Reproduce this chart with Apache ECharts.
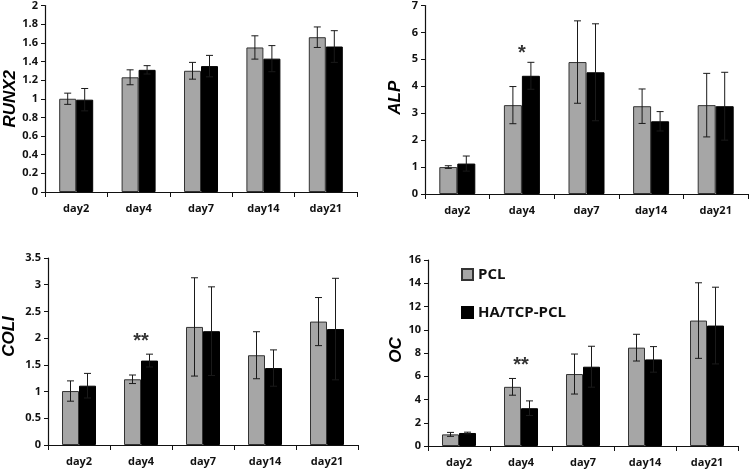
<!DOCTYPE html>
<html><head><meta charset="utf-8">
<script src="https://cdn.jsdelivr.net/npm/echarts@6/dist/echarts.min.js"></script>
<style>html,body{margin:0;padding:0;background:#fff}#c{width:750px;height:469px}</style>
</head><body><div id="c"></div>
<script>
var days = ['day2', 'day4', 'day7', 'day14', 'day21'];
var seriesNames = ['PCL', 'HA/TCP-PCL'];
var panelTitles = ['RUNX2', 'ALP', 'COLI', 'OC'];

var runx2Pcl = [1.00, 1.23, 1.30, 1.55, 1.66];
var runx2PclErr = [0.06, 0.08, 0.09, 0.125, 0.11];
var runx2Ha = [0.99, 1.31, 1.35, 1.43, 1.56];
var runx2HaErr = [0.12, 0.045, 0.115, 0.14, 0.17];

var alpPcl = [1.00, 3.30, 4.90, 3.26, 3.30];
var alpPclErr = [0.05, 0.69, 1.53, 0.64, 1.18];
var alpHa = [1.13, 4.39, 4.52, 2.70, 3.26];
var alpHaErr = [0.28, 0.50, 1.80, 0.36, 1.26];

var coliPcl = [1.01, 1.23, 2.21, 1.68, 2.31];
var coliPclErr = [0.19, 0.08, 0.92, 0.44, 0.45];
var coliHa = [1.11, 1.58, 2.13, 1.44, 2.17];
var coliHaErr = [0.23, 0.12, 0.83, 0.34, 0.95];

var ocPcl = [1.00, 5.09, 6.19, 8.46, 10.79];
var ocPclErr = [0.17, 0.72, 1.72, 1.15, 3.25];
var ocHa = [1.12, 3.25, 6.82, 7.45, 10.36];
var ocHaErr = [0.07, 0.63, 1.76, 1.10, 3.30];

var yMax = [2, 7, 3.5, 16];
var yInterval = [0.2, 1, 0.5, 2];

// significance marks
var sigPanel = [1, 2, 3];
var sigDay = ['day4', 'day4', 'day4'];
var sigY = [5.2, 1.93, 6.95];
var sigText = ['*', '**', '**'];

var panelData = [
  [runx2Pcl, runx2PclErr, runx2Ha, runx2HaErr],
  [alpPcl, alpPclErr, alpHa, alpHaErr],
  [coliPcl, coliPclErr, coliHa, coliHaErr],
  [ocPcl, ocPclErr, ocHa, ocHaErr]
];

var grids = [
  {left: 45, top: 4, right: 393, bottom: 277},
  {left: 425, top: 3, right: 2, bottom: 275},
  {left: 48, top: 258, right: 392, bottom: 24},
  {left: 428, top: 260, right: 12, bottom: 23}
];
var barW = [17, 18, 17, 17];
var nameGaps = [26, 21, 30, 23];
var namePads = [[0, 0, 0, 0], [0, 0, 0, 4], [0, 0, 0, 30], [0, 0, 0, 6]];

var FONT = '"Open Sans", Lato, Arial, sans-serif';
var GRAY = '#a6a6a6';

var xAxes = [], yAxes = [], series = [];
for (var p = 0; p < 4; p++) {
  xAxes.push({
    type: 'category', gridIndex: p, data: days,
    axisLine: {lineStyle: {color: '#111', width: 1.2}},
    axisTick: {show: true, inside: false, length: 5, alignWithLabel: false, lineStyle: {color: '#111'}},
    axisLabel: {color: '#111', fontWeight: 'bold', fontSize: 11, fontFamily: FONT, margin: 11}
  });
  yAxes.push({
    type: 'value', gridIndex: p, min: 0, max: yMax[p], interval: yInterval[p],
    name: panelTitles[p], nameLocation: 'middle', nameGap: nameGaps[p], nameRotate: 90,
    nameTextStyle: {fontStyle: 'italic', fontWeight: 'bold', fontSize: 17, color: '#000', fontFamily: '"Liberation Sans", Arial, sans-serif', padding: namePads[p]},
    splitLine: {show: false},
    axisLine: {show: true, lineStyle: {color: '#111', width: 1.2}},
    axisTick: {show: true, inside: false, length: 4, lineStyle: {color: '#111'}},
    axisLabel: {color: '#111', fontWeight: 'bold', fontSize: 11, fontFamily: FONT, margin: 7}
  });
  var d = panelData[p];
  series.push({
    name: seriesNames[0], type: 'bar', xAxisIndex: p, yAxisIndex: p,
    data: d[0], barWidth: barW[p], barGap: '0%',
    itemStyle: {color: GRAY, borderColor: '#333', borderWidth: 1}
  });
  series.push({
    name: seriesNames[1], type: 'bar', xAxisIndex: p, yAxisIndex: p,
    data: d[2], barWidth: barW[p], barGap: '0%',
    itemStyle: {color: '#000', borderColor: '#000', borderWidth: 1}
  });
  (function (p, d) {
    var errData = [];
    for (var i = 0; i < days.length; i++) {
      errData.push([i, d[0][i], d[1][i], -1]);
      errData.push([i, d[2][i], d[3][i], 1]);
    }
    series.push({
      type: 'custom', xAxisIndex: p, yAxisIndex: p, z: 5, silent: true,
      data: errData,
      renderItem: function (params, api) {
        var idx = api.value(0), v = api.value(1), e = api.value(2), side = api.value(3);
        var hi = api.coord([idx, v + e]);
        var lo = api.coord([idx, v - e]);
        var x = hi[0] + side * barW[p] / 2;
        var cw = 3.5;
        var st = {stroke: '#1a1a1a', lineWidth: 1};
        return {
          type: 'group', children: [
            {type: 'line', shape: {x1: x, y1: hi[1], x2: x, y2: lo[1]}, style: st},
            {type: 'line', shape: {x1: x - cw, y1: hi[1], x2: x + cw, y2: hi[1]}, style: st},
            {type: 'line', shape: {x1: x - cw, y1: lo[1], x2: x + cw, y2: lo[1]}, style: st}
          ]
        };
      }
    });
  })(p, d);
}

for (var s = 0; s < sigPanel.length; s++) {
  series.push({
    type: 'scatter', xAxisIndex: sigPanel[s], yAxisIndex: sigPanel[s], z: 6, silent: true,
    symbolSize: 0,
    data: [[sigDay[s], sigY[s]]],
    label: {show: true, position: 'inside', formatter: sigText[s], color: '#000', fontSize: 20, fontWeight: 'bold', fontFamily: '"Liberation Sans", Arial, sans-serif'}
  });
}

var chart = echarts.init(document.getElementById('c'), null, {renderer: 'canvas'});
chart.setOption({
  animation: false,
  backgroundColor: '#fff',
  grid: grids,
  xAxis: xAxes,
  yAxis: yAxes,
  legend: {
    data: seriesNames, orient: 'vertical', left: 456, top: 262,
    icon: 'rect', itemWidth: 11, itemHeight: 11, itemGap: 23,
    textStyle: {fontSize: 15, fontWeight: 'bold', color: '#111', fontFamily: FONT}
  },
  series: series
});
</script>
</body></html>
